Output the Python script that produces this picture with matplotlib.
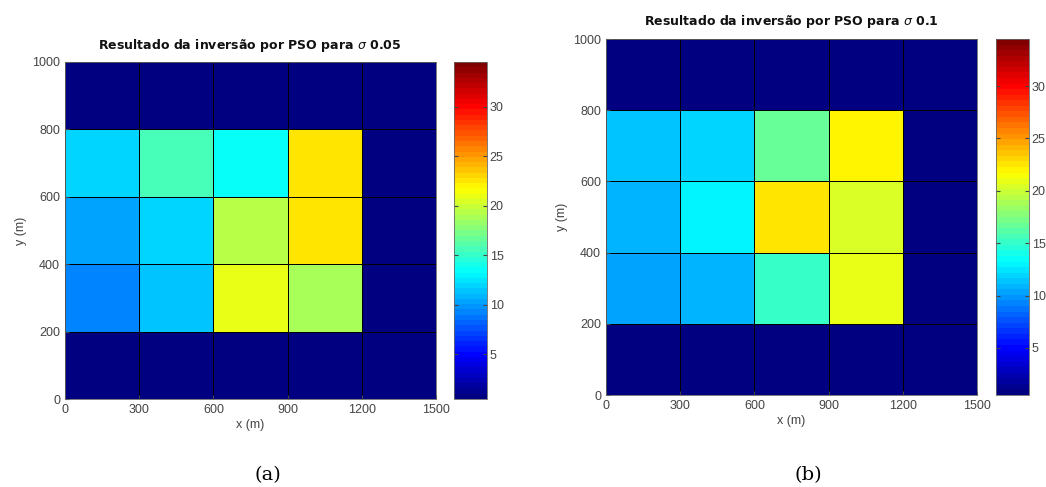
import matplotlib
matplotlib.use('Agg')
import matplotlib.pyplot as plt
from matplotlib.colors import LinearSegmentedColormap
import numpy as np

# cell edges (m)
x_edges = [0, 300, 600, 900, 1200, 1500]
y_edges = [0, 200, 400, 600, 800, 1000]

# estimated cell values, rows from y=0 upwards, columns from x=0
bg = 0.5
vals_a = [
    [bg, bg, bg, bg, bg],
    [9.4, 11.5, 20.7, 18.6, bg],
    [10.2, 11.9, 19.4, 22.5, bg],
    [11.7, 15.7, 13.4, 22.8, bg],
    [bg, bg, bg, bg, bg],
]
vals_b = [
    [bg, bg, bg, bg, bg],
    [10.2, 10.8, 15.2, 21.1, bg],
    [10.6, 13.0, 22.8, 20.3, bg],
    [11.5, 11.9, 16.9, 21.8, bg],
    [bg, bg, bg, bg, bg],
]
titles = ['Resultado da inversão por PSO para $\\sigma$ 0.05',
          'Resultado da inversão por PSO para $\\sigma$ 0.1']
captions = ['(a)', '(b)']
cbar_ticks = [5, 10, 15, 20, 25, 30]
vmin, vmax = 0.5, 34.5

# MATLAB style jet
jet_ml = LinearSegmentedColormap.from_list('jet_ml', [
    (0.0, (0, 0, 0.5)), (0.125, (0, 0, 1)), (0.375, (0, 1, 1)),
    (0.625, (1, 1, 0)), (0.875, (1, 0, 0)), (1.0, (0.5, 0, 0))], N=64)

W, H = 1046, 487
fig = plt.figure(figsize=(W / 100, H / 100), dpi=100)
plt.rcParams['font.family'] = ['Liberation Sans', 'DejaVu Sans']

# pixel boxes: (left, top, right, bottom) for axes and colorbar
layouts = [
    ((65, 62, 436, 399), (454, 62, 487, 399), (250, 45), (268, 475)),
    ((606, 39, 977, 395), (996, 39, 1029, 395), (791, 22), (808, 475)),
]

def box(l, t, r, b):
    return [l / W, 1 - b / H, (r - l) / W, (b - t) / H]

tick_color = '#444444'
for vals, title, cap, (abox, cbox, tpos, cpos) in zip(
        [vals_a, vals_b], titles, captions, layouts):
    ax = fig.add_axes(box(*abox))
    mesh = ax.pcolormesh(x_edges, y_edges, np.array(vals), cmap=jet_ml,
                         vmin=vmin, vmax=vmax, edgecolors='black', linewidth=0.5)
    ax.set_xlim(0, 1500)
    ax.set_ylim(0, 1000)
    ax.set_xticks(x_edges)
    ax.set_yticks(y_edges)
    ax.tick_params(direction='in', labelsize=9, colors=tick_color, length=3)
    ax.set_xlabel('x (m)', fontsize=9, color=tick_color, labelpad=2)
    ax.set_ylabel('y (m)', fontsize=9, color=tick_color, labelpad=4)
    for s in ax.spines.values():
        s.set_color('#666666')
        s.set_linewidth(0.6)

    cax = fig.add_axes(box(*cbox))
    cb = fig.colorbar(mesh, cax=cax, ticks=cbar_ticks)
    cb.outline.set_linewidth(0.6)
    cb.outline.set_edgecolor('#666666')
    cax.tick_params(direction='in', labelsize=9, colors=tick_color, length=3,
                    left=True, right=True, pad=2)

    fig.text(tpos[0] / W, 1 - tpos[1] / H, title, ha='center', va='center',
             fontsize=9, fontweight='bold', color='#111111', family='DejaVu Sans')
    fig.text(cpos[0] / W, 1 - cpos[1] / H, cap, ha='center', va='center',
             fontsize=14, family='DejaVu Serif')

fig.savefig('out.png', dpi=100)
